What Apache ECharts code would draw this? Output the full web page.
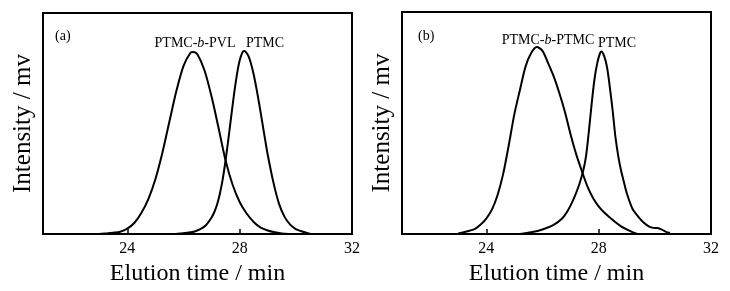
<!DOCTYPE html>
<html>
<head>
<meta charset="utf-8">
<script src="https://cdn.jsdelivr.net/npm/echarts@6/dist/echarts.min.js"></script>
<style>
  html, body { margin: 0; padding: 0; background: #fff; }
  #chart { width: 730px; height: 291px; }
</style>
</head>
<body>
<div id="chart"></div>
<script>
// panel (a): PTMC-b-PVL and PTMC
const aCopolyTime = [21, 23.0, 23.25, 23.5, 23.75, 24.0, 24.25, 24.5, 24.75, 25.0, 25.25, 25.5, 25.75, 26.0, 26.25, 26.35, 26.5, 26.75, 27.0, 27.25, 27.5, 27.75, 28.0, 28.25, 28.5, 28.75, 29.0, 29.25, 29.5, 29.75];
const aCopolyValue = [0, 0.1, 0.3, 0.6, 1.1, 2.5, 5, 9.5, 15.8, 24.8, 36.8, 50.9, 64.8, 76, 82, 82.4, 81.2, 74, 62.2, 48, 33.3, 22.3, 14.5, 9.3, 5.5, 2.9, 1.6, 0.8, 0.3, 0];
const aHomoTime = [25.2, 25.8, 26.2, 26.4, 26.6, 26.8, 27.0, 27.1, 27.2, 27.3, 27.4, 27.5, 27.6, 27.7, 27.8, 27.9, 28.0, 28.1, 28.16, 28.3, 28.4, 28.5, 28.6, 28.7, 28.8, 28.9, 29.0, 29.2, 29.4, 29.6, 29.8, 30.0, 30.2, 30.4, 30.56];
const aHomoValue = [0, 0.2, 0.7, 1.2, 2.2, 4, 7.5, 10, 13.5, 18.5, 25, 33.4, 43.1, 53.3, 63.2, 71.9, 78.5, 82.2, 82.8, 80.9, 77.3, 72.2, 65.8, 58.6, 51, 43.3, 35.9, 23.5, 13.8, 7.8, 4.3, 2.3, 1.3, 0.5, 0];

// panel (b): PTMC-b-PTMC and PTMC
const bCopolyTime = [23.0, 23.2, 23.4, 23.6, 23.8, 24.0, 24.2, 24.4, 24.6, 24.8, 25.0, 25.2, 25.4, 25.6, 25.8, 26.0, 26.2, 26.4, 26.6, 26.8, 27.0, 27.2, 27.4, 27.6, 27.8, 28.0, 28.2, 28.4, 28.6, 28.8, 29.0, 29.2, 29.4];
const bCopolyValue = [0.3, 0.8, 1.5, 2.4, 4.3, 7, 11, 17.5, 27, 40, 54, 65, 75.5, 81.5, 84.2, 82.5, 77, 71, 63.5, 55, 45, 36, 28.5, 21.5, 16.3, 12.5, 9.7, 7.5, 5.3, 3.5, 2.1, 0.9, 0];
const bHomoTime = [25.2, 25.6, 26.0, 26.4, 26.7, 26.9, 27.1, 27.3, 27.45, 27.55, 27.65, 27.75, 27.85, 27.95, 28.05, 28.1, 28.2, 28.3, 28.4, 28.5, 28.6, 28.7, 28.8, 28.9, 29.0, 29.2, 29.4, 29.6, 29.8, 29.95, 30.1, 30.25, 30.4, 30.54];
const bHomoValue = [0, 0.8, 2.1, 4.2, 7, 10.5, 15.5, 22, 28.5, 35, 46, 58.5, 69.5, 77, 81.5, 82.2, 80, 75.1, 66, 55.5, 43.5, 35, 28.5, 23.5, 18.5, 11.5, 8, 5.2, 3.4, 2.8, 2.7, 2, 1, 0.5];

const tickValues = [24, 28, 32];
const serif = 'Liberation Serif';

const pairs = (xs, ys) => xs.map((x, i) => [x, ys[i]]);

const chart = echarts.init(document.getElementById('chart'));

function xAxisFor(gridIndex) {
  return {
    type: 'value',
    gridIndex,
    min: 21,
    max: 32,
    name: 'Elution time / min',
    nameLocation: 'middle',
    nameGap: 16,
    nameTextStyle: { fontFamily: serif, fontSize: 24, color: '#000' },
    axisLine: { show: true, lineStyle: { color: '#000', width: 2 } },
    axisTick: {
      show: true,
      inside: true,
      length: 5,
      customValues: tickValues,
      lineStyle: { color: '#000', width: 1.5 },
    },
    axisLabel: {
      show: true,
      customValues: tickValues,
      margin: 7,
      fontFamily: serif,
      fontSize: 16,
      color: '#000',
    },
    splitLine: { show: false },
  };
}

function yAxisFor(gridIndex) {
  return {
    type: 'value',
    gridIndex,
    min: 0,
    max: 100,
    name: 'Intensity / mv',
    nameLocation: 'middle',
    nameGap: 7,
    nameTextStyle: { fontFamily: serif, fontSize: 25, color: '#000' },
    axisLine: { show: true, lineStyle: { color: '#000', width: 2 } },
    axisTick: { show: false },
    axisLabel: { show: false },
    splitLine: { show: false },
  };
}

function curve(name, xi, data) {
  return {
    name,
    type: 'line',
    xAxisIndex: xi,
    yAxisIndex: xi,
    data,
    smooth: 0.3,
    symbol: 'none',
    lineStyle: { color: '#000', width: 2 },
  };
}

const option = {
  backgroundColor: '#fff',
  animation: false,
  grid: [
    { left: 43, top: 13, width: 309, height: 225, show: true, borderColor: '#000', borderWidth: 2 },
    { left: 402, top: 12, width: 309, height: 226, show: true, borderColor: '#000', borderWidth: 2 },
  ],
  xAxis: [xAxisFor(0), xAxisFor(1)],
  yAxis: [yAxisFor(0), yAxisFor(1)],
  series: [
    curve('PTMC-b-PVL', 0, pairs(aCopolyTime, aCopolyValue)),
    curve('PTMC', 0, pairs(aHomoTime, aHomoValue)),
    curve('PTMC-b-PTMC', 1, pairs(bCopolyTime, bCopolyValue)),
    curve('PTMC', 1, pairs(bHomoTime, bHomoValue)),
  ],
  graphic: [
    { type: 'text', x: 55, y: 29, style: { text: '(a)', font: '14px "Liberation Serif"', fill: '#000' } },
    { type: 'text', x: 195, y: 36, style: {
      text: 'PTMC-{i|b}-PVL', textAlign: 'center', font: '14px "Liberation Serif"', fill: '#000',
      rich: { i: { fontStyle: 'italic', fontFamily: serif, fontSize: 14 } },
    } },
    { type: 'text', x: 265, y: 36, style: { text: 'PTMC', textAlign: 'center', font: '14px "Liberation Serif"', fill: '#000' } },
    { type: 'text', x: 418, y: 29, style: { text: '(b)', font: '14px "Liberation Serif"', fill: '#000' } },
    { type: 'text', x: 548, y: 33, style: {
      text: 'PTMC-{i|b}-PTMC', textAlign: 'center', font: '14px "Liberation Serif"', fill: '#000',
      rich: { i: { fontStyle: 'italic', fontFamily: serif, fontSize: 14 } },
    } },
    { type: 'text', x: 617, y: 36, style: { text: 'PTMC', textAlign: 'center', font: '14px "Liberation Serif"', fill: '#000' } },
  ],
};

chart.setOption(option);
</script>
</body>
</html>
